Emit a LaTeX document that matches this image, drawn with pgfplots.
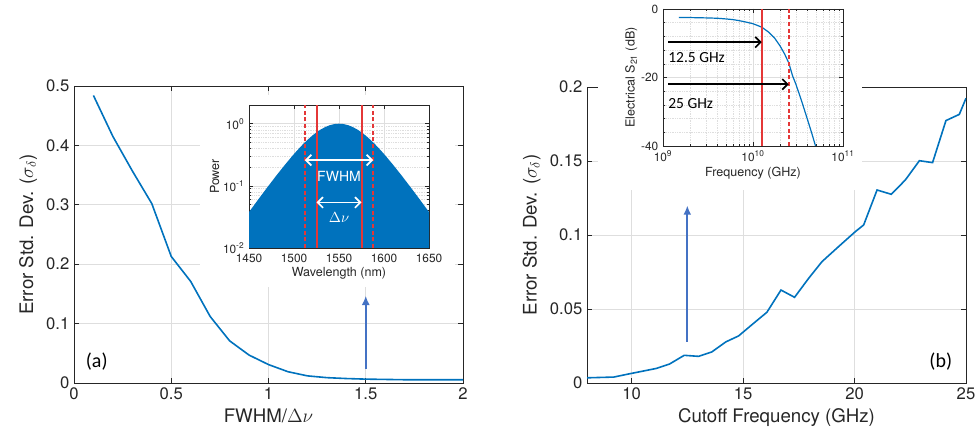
\documentclass[border=0pt]{standalone}
\usepackage{pgfplots}
\pgfplotsset{compat=1.18}
\usepackage{fontspec}
\setmainfont{TeX Gyre Heros}
\newfontfamily\calib{Carlito}
\usetikzlibrary{arrows.meta}
\definecolor{mblue}{RGB}{0,114,189}
\definecolor{pblue}{RGB}{68,114,196}
\definecolor{mred}{RGB}{228,55,55}
\definecolor{axgray}{RGB}{38,38,38}
\definecolor{gridgray}{RGB}{222,222,222}
\begin{document}
\begin{tikzpicture}
\path[use as bounding box] (0,0) rectangle (734.25pt,328.5pt);
\pgfplotsset{
  mainax/.style={scale only axis, anchor=south west,
    axis line style={axgray, line width=0.5pt}, tick style={axgray, line width=0.5pt},
    grid=major, major grid style={gridgray, line width=0.5pt},
    ticklabel style={font=\fontsize{12.5}{14}\selectfont, text=axgray},
    label style={font=\fontsize{14}{16}\selectfont, text=axgray},
    tick align=inside, major tick length=4pt},
  insax/.style={scale only axis, anchor=south west,
    axis line style={axgray, line width=0.4pt}, tick style={axgray, line width=0.4pt},
    major grid style={gridgray, line width=0.4pt},
    minor grid style={gridgray, line width=0.3pt, densely dotted},
    ticklabel style={font=\fontsize{8.9}{10}\selectfont, text=axgray},
    label style={font=\fontsize{9.4}{11}\selectfont, text=axgray},
    tick align=inside, major tick length=3pt, minor tick length=1.5pt},
}
% ---------------- panel (a)
\begin{axis}[mainax, at={(55.5pt,41.25pt)}, width=291.75pt, height=222.75pt,
  xmin=0, xmax=2, ymin=0, ymax=0.5,
  xtick={0,0.5,1,1.5,2}, xticklabels={0,0.5,1,1.5,2},
  ytick={0,0.1,0.2,0.3,0.4,0.5}, yticklabels={0,0.1,0.2,0.3,0.4,0.5},
  xlabel={FWHM/$\Delta\nu$}, ylabel={Error Std. Dev. ($\sigma_\delta$)}]
\addplot[mblue, line width=1.2pt] coordinates {
(0.1,0.484)(0.2,0.415)(0.3,0.357)(0.4,0.302)(0.5,0.213)(0.6,0.171)(0.7,0.112)
(0.8,0.071)(0.9,0.047)(1.0,0.031)(1.1,0.019)(1.2,0.012)(1.3,0.009)(1.4,0.0075)
(1.5,0.0065)(1.6,0.006)(1.7,0.0055)(1.8,0.0055)(1.9,0.0055)(2.0,0.0055)};
\draw[pblue, line width=1.7pt, -{Latex[length=7pt,width=6pt]}] (axis cs:1.5,0.024) -- (axis cs:1.5,0.147);
\node[font=\calib\fontsize{15}{17}\selectfont, text=black] at (axis cs:0.117,0.036) {(a)};
\end{axis}
% ---------------- panel (b)
\begin{axis}[mainax, at={(440.25pt,41.25pt)}, width=284.25pt, height=222pt,
  xmin=8, xmax=25, ymin=0, ymax=0.2,
  xtick={10,15,20,25}, xticklabels={10,15,20,25},
  ytick={0,0.05,0.1,0.15,0.2}, yticklabels={0,0.05,0.1,0.15,0.2},
  xlabel={Cutoff Frequency (GHz)}, ylabel={Error Std. Dev. ($\sigma_\delta$)}]
\addplot[mblue, line width=1.2pt] coordinates {
(8.0,0.0035)(9.2,0.0040)(9.9,0.0062)(10.5,0.0080)(11.1,0.0098)(11.7,0.0128)
(12.36,0.0187)(13.0,0.0180)(13.6,0.0210)(14.23,0.0278)(14.8,0.0318)(15.47,0.0403)
(16.07,0.0478)(16.7,0.0628)(17.31,0.0579)(17.94,0.0707)(18.54,0.0820)(19.28,0.0921)
(20.03,0.1022)(20.41,0.1068)(21.01,0.1304)(21.65,0.1275)(22.28,0.1372)(22.91,0.1502)
(23.5,0.1489)(24.1,0.1773)(24.7,0.1815)(25.0,0.1924)};
\draw[pblue, line width=1.7pt, -{Latex[length=7pt,width=6pt]}] (axis cs:12.5,0.028) -- (axis cs:12.5,0.12);
\node[font=\calib\fontsize{15}{17}\selectfont, text=black] at (axis cs:23.87,0.0144) {(b)};
\end{axis}
% white backgrounds of the insets
\fill[white] (150pt,113.25pt) rectangle (341.25pt,257.25pt);
\fill[white] (448.5pt,186pt) rectangle (646.5pt,328.5pt);
% ---------------- inset (a)
\begin{axis}[insax, at={(186.75pt,142.5pt)}, width=135pt, height=107.25pt,
  xmin=1450, xmax=1650, ymode=log, ymin=0.01, ymax=2,
  xtick={1450,1500,1550,1600,1650}, xticklabels={1450,1500,1550,1600,1650},
  ytick={0.01,0.1,1}, yticklabels={10\textsuperscript{-2},10\textsuperscript{-1},10\textsuperscript{0}},
  xticklabel style={yshift=-1pt},
  xmajorgrids, ymajorgrids, yminorgrids,
  xlabel={Wavelength (nm)}, ylabel={Power},
  xlabel style={yshift=3pt}, ylabel style={yshift=-4pt}]
\addplot[fill=mblue, draw=none] coordinates {
(1450,0.01)(1450,0.0379)(1460,0.0596)(1470,0.0931)(1480,0.144)(1490,0.219)(1500,0.326)
(1505,0.392)(1510,0.468)(1515,0.550)(1520,0.638)(1525,0.727)(1530,0.812)(1535,0.888)
(1540,0.948)(1545,0.987)(1550,1.0)(1555,0.987)(1560,0.948)(1565,0.888)(1570,0.812)
(1575,0.727)(1580,0.638)(1585,0.550)(1590,0.468)(1595,0.392)(1600,0.326)(1610,0.219)
(1620,0.144)(1630,0.0931)(1640,0.0596)(1650,0.0379)(1650,0.01)} -- cycle;
\addplot[color=mred, line width=1.2pt, dash pattern=on 3pt off 2pt] coordinates {(1512,0.01)(1512,2)};
\addplot[color=mred, line width=1.2pt, dash pattern=on 3pt off 2pt] coordinates {(1588,0.01)(1588,2)};
\addplot[draw=mred, line width=1.5pt, solid] coordinates {(1525,0.01)(1525,2)};
\addplot[draw=mred, line width=1.5pt, solid] coordinates {(1575,0.01)(1575,2)};
\draw[white, line width=1.3pt, {Straight Barb[length=4pt,width=8pt]}-{Straight Barb[length=4pt,width=8pt]}] (axis cs:1512,0.26) -- (axis cs:1588,0.26);
\draw[white, line width=1.3pt, {Straight Barb[length=4pt,width=8pt]}-{Straight Barb[length=4pt,width=8pt]}] (axis cs:1525,0.054) -- (axis cs:1575,0.054);
\node[text=white, font=\fontsize{10.5}{12}\selectfont] at (axis cs:1550,0.14) {FWHM};
\node[text=white, font=\fontsize{10.5}{12}\selectfont] at (axis cs:1550,0.031) {$\Delta\nu$};
\end{axis}
% ---------------- inset (b)
\begin{axis}[insax, at={(497.25pt,219pt)}, width=135pt, height=102.75pt,
  xmode=log, xmin=1e9, xmax=1e11, ymin=-40, ymax=0,
  xtick={1e9,1e10,1e11}, xticklabels={10\textsuperscript{9},10\textsuperscript{10},10\textsuperscript{11}},
  ytick={-40,-20,0}, yticklabels={-40,-20,0}, minor y tick num=4,
  grid=both,
  xlabel={Frequency (GHz)}, ylabel={Electrical S\textsubscript{21} (dB)},
  xlabel style={yshift=3pt}, ylabel style={yshift=-4pt}]
\addplot[mblue, line width=0.9pt] coordinates {
(1.5e9,-2.5)(2e9,-2.5)(3e9,-2.6)(4e9,-2.7)(5e9,-2.9)(6e9,-3.1)(7e9,-3.4)(8e9,-3.7)
(1e10,-4.3)(1.25e10,-5.3)(1.5e10,-6.8)(1.75e10,-8.6)(2e10,-10.8)(2.25e10,-13.2)
(2.5e10,-15.8)(2.75e10,-19.5)(3e10,-22)(3.5e10,-27.2)(4e10,-32)(4.5e10,-36.3)(4.95e10,-40)};
\addplot[draw=mred, line width=1.4pt, solid] coordinates {(1.25e10,-40)(1.25e10,0)};
\addplot[color=mred, line width=1.1pt, dash pattern=on 3pt off 2pt] coordinates {(2.5e10,-40)(2.5e10,0)};
\draw[black, line width=1.3pt, -{Straight Barb[length=4pt,width=8pt]}] (axis cs:1.14e9,-9.7) -- (axis cs:1.25e10,-9.7);
\draw[black, line width=1.3pt, -{Straight Barb[length=4pt,width=8pt]}] (axis cs:1.14e9,-22) -- (axis cs:2.5e10,-22);
\node[anchor=west, inner sep=0pt, font=\calib\fontsize{11.6}{13}\selectfont] at (axis cs:1.14e9,-14.2) {12.5 GHz};
\node[anchor=west, inner sep=0pt, font=\calib\fontsize{11.6}{13}\selectfont] at (axis cs:1.14e9,-27.5) {25 GHz};
\end{axis}
\end{tikzpicture}
\end{document}
